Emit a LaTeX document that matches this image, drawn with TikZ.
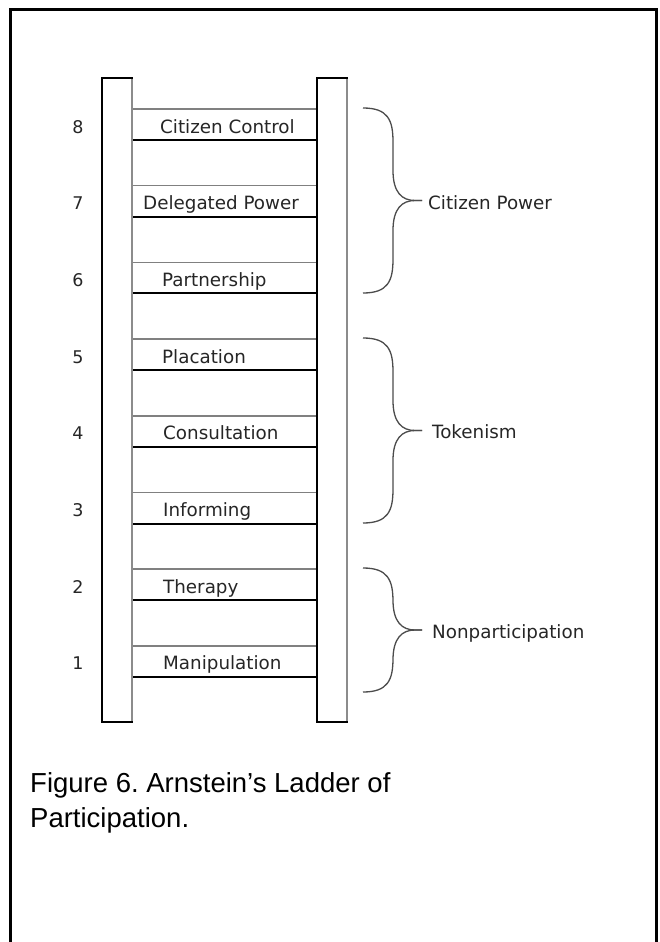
\documentclass[tikz,border=0pt]{standalone}
\usepackage{fontspec}
\setmainfont{DejaVu Sans}
\newfontfamily\capfont{Liberation Sans}
\frenchspacing
\begin{document}
\begin{tikzpicture}[x=1pt,y=-1pt,
  rail/.style={draw=black,line width=1.4pt,fill=white},
  railedge/.style={draw=black!45,line width=1.4pt},
  rungtop/.style={draw=black!50,line width=1.5pt},
  rungbot/.style={draw=black,line width=2pt},
  lbl/.style={inner sep=0pt,anchor=base west,font=\fontsize{18.3}{22}\selectfont,text=black!85},
  num/.style={inner sep=0pt,anchor=base,font=\fontsize{17.5}{22}\selectfont,text=black!85},
  bracestyle/.style={draw=black!70,line width=1.3pt},
  caption/.style={inner sep=0pt,anchor=base west,font=\capfont\fontsize{27.5}{33}\selectfont}]
\useasboundingbox (0,0) rectangle (660,942);
\fill[white] (0,0) rectangle (660,942);
% frame
\draw[line width=3pt] (10,945) -- (10,10) -- (656,10) -- (656,945);
% rails
\draw[rail] (102,78) rectangle (132,722);
\draw[railedge] (132,79) -- (132,721);
\draw[rail] (317,78) rectangle (347,722);
\draw[railedge] (347,79) -- (347,721);
% rungs
\foreach \k in {1,...,8}{
  \pgfmathsetmacro{\yb}{140+(8-\k)*76.7}
  \pgfmathsetmacro{\yt}{\yb-31}
  \draw[rungtop] (133,\yt) -- (316,\yt);
  \draw[rungbot] (133,\yb) -- (316,\yb);
  \node[num] (n\k) at (78,\yb-7) {\k};
}
\node[lbl] (r8) at (160,133) {Citizen Control};
\node[lbl] (r7) at (143,209.7) {Delegated Power};
\node[lbl] (r6) at (162,286.4) {Partnership};
\node[lbl] (r5) at (162,363.1) {Placation};
\node[lbl] (r4) at (163,439.8) {Consultation};
\node[lbl] (r3) at (163,516.5) {Informing};
\node[lbl] (r2) at (163,593.2) {Therapy};
\node[lbl] (r1) at (163,669.9) {Manipulation};
% braces
\newcommand\ladderbrace[3]{%
  \draw[bracestyle] (363,#1) .. controls (388,#1) and (393,{#1+12}) .. (393,{#1+34})
    -- (393,{#3-30}) .. controls (393,{#3-8}) and (402,#3) .. (415,#3) -- (422,#3);
  \draw[bracestyle] (422,#3) -- (415,#3) .. controls (402,#3) and (393,{#3+8}) .. (393,{#3+30})
    -- (393,{#2-34}) .. controls (393,{#2-12}) and (388,#2) .. (363,#2);
  \coordinate (tip#1) at (422,#3);
}
\ladderbrace{108}{293}{200.5}
\ladderbrace{338}{523}{430.5}
\ladderbrace{568}{692}{630}
\node[lbl] (cp) at (428,209) {Citizen Power};
\node[lbl] (tk) at (432,438.5) {Tokenism};
\node[lbl] (np) at (432,638) {Nonparticipation};
% caption
\node[caption] (cap1) at (30,792) {Figure 6. Arnstein’s Ladder of};
\node[caption] (cap2) at (30,827) {Participation.};
\end{tikzpicture}
\end{document}
